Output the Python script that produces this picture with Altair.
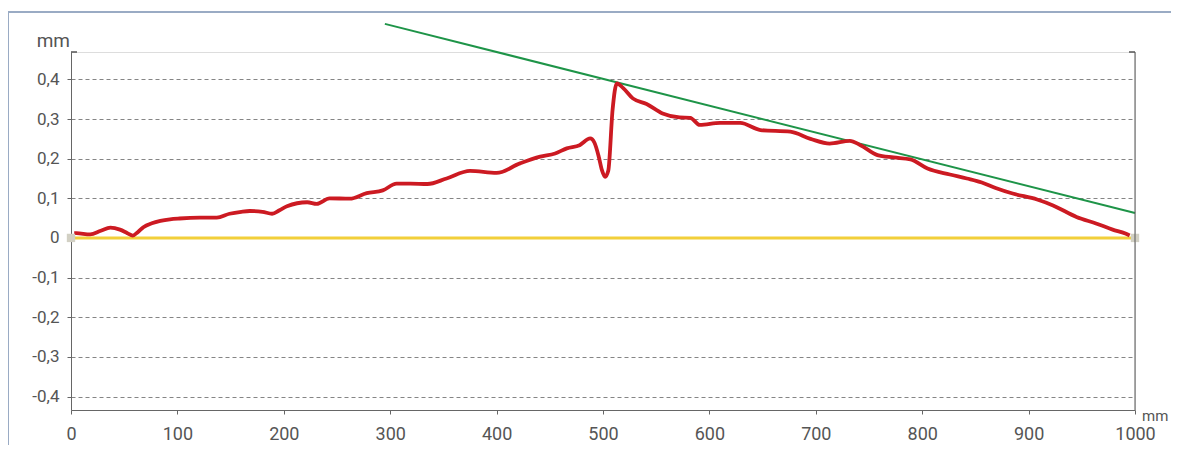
import altair as alt
import pandas as pd

# Red profile curve (mm, deviation in mm)
prof_x = [3, 5, 18, 28, 37, 46, 53, 58, 63, 68, 76, 84, 93, 102, 121, 137, 149, 160, 168, 180,
          189, 196, 203, 222, 231, 243, 262, 278, 293, 306, 319, 335, 353, 375, 400, 422, 441,
          455, 466, 478, 488, 492, 496, 499, 502, 505, 509, 513, 519, 528, 541, 556, 572, 582,
          591, 610, 629, 648, 676, 695, 713, 732, 742, 758, 773, 789, 805, 826, 842, 856, 869,
          885, 908, 923, 945, 964, 979, 991, 995]
prof_y = [0.012, 0.012, 0.009, 0.018, 0.026, 0.021, 0.012, 0.006, 0.015, 0.027, 0.037, 0.043,
          0.047, 0.049, 0.051, 0.051, 0.061, 0.066, 0.068, 0.066, 0.061, 0.070, 0.080, 0.090,
          0.086, 0.100, 0.099, 0.113, 0.120, 0.137, 0.137, 0.136, 0.150, 0.169, 0.164, 0.188,
          0.205, 0.213, 0.226, 0.234, 0.251, 0.240, 0.205, 0.171, 0.154, 0.170, 0.323, 0.390,
          0.378, 0.352, 0.338, 0.314, 0.304, 0.303, 0.285, 0.290, 0.290, 0.272, 0.268, 0.250,
          0.238, 0.245, 0.234, 0.209, 0.203, 0.198, 0.175, 0.160, 0.150, 0.140, 0.126, 0.112,
          0.097, 0.082, 0.053, 0.036, 0.021, 0.011, 0.006]

# Green tangent line
tan_x = [295, 1000]
tan_y = [0.540, 0.063]

# Yellow reference line and end markers
ref_x = [0, 1000]
ref_y = [0, 0]

x_ticks = [0, 100, 200, 300, 400, 500, 600, 700, 800, 900, 1000]
y_ticks = [-0.4, -0.3, -0.2, -0.1, 0, 0.1, 0.2, 0.3, 0.4]

W, H = 1064, 358
FONT = "Roboto"

prof = pd.DataFrame({"x": prof_x, "y": prof_y})
tan = pd.DataFrame({"x": tan_x, "y": tan_y})
ref = pd.DataFrame({"x": ref_x, "y": ref_y})

xs = alt.Scale(domain=[0, 1000], nice=False)
ys = alt.Scale(domain=[-0.434, 0.469], nice=False, zero=False)

ylab = ("datum.value == 0 ? '0' : replace(replace(format(datum.value, '.1f'), '.', ','), '\u2212', '-')")

xaxis = alt.Axis(values=x_ticks, title=None, grid=False, domainColor="#666", tickColor="#666",
                 tickSize=4, labelFontSize=18, labelColor="#555", labelFont=FONT, labelPadding=11,
                 labelFlush=False, format="d")
yaxis = alt.Axis(values=y_ticks, title=None, grid=True, gridDash=[4, 3], gridColor="#858585",
                 gridWidth=1, domainColor="#666", tickColor="#666", tickSize=4, labelFontSize=17,
                 labelColor="#555", labelFont=FONT, labelPadding=8, labelExpr=ylab)

base_ref = alt.Chart(ref).mark_line(color="#f2cf3a", strokeWidth=3).encode(
    x=alt.X("x:Q", scale=xs, axis=xaxis),
    y=alt.Y("y:Q", scale=ys, axis=yaxis),
)
green = alt.Chart(tan).mark_line(color="#1e9448", strokeWidth=2).encode(
    x=alt.X("x:Q", scale=xs), y=alt.Y("y:Q", scale=ys))
red = alt.Chart(prof).mark_line(color="#cc1a22", strokeWidth=3.8, interpolate="monotone").encode(
    x=alt.X("x:Q", scale=xs), y=alt.Y("y:Q", scale=ys))
ends = alt.Chart(ref).mark_square(color="#d2d0c4", size=70, opacity=1).encode(
    x=alt.X("x:Q", scale=xs), y=alt.Y("y:Q", scale=ys))

dummy = pd.DataFrame({"a": [0]})
right_axis = alt.Chart(dummy).mark_rule(color="#555", strokeWidth=1).encode(
    x=alt.value(W), y=alt.value(0), y2=alt.value(H))
right_tick = alt.Chart(dummy).mark_rule(color="#555", strokeWidth=1.5).encode(
    x=alt.value(W - 6), x2=alt.value(W), y=alt.value(0))
left_tick = alt.Chart(dummy).mark_rule(color="#555", strokeWidth=1.5).encode(
    x=alt.value(0), x2=alt.value(6), y=alt.value(0))
frame_top = alt.Chart(dummy).mark_rule(color="#9aabc4", strokeWidth=2).encode(
    x=alt.value(-63), x2=alt.value(W + 40), y=alt.value(-40))
frame_left = alt.Chart(dummy).mark_rule(color="#9aabc4", strokeWidth=2).encode(
    x=alt.value(-63), y=alt.value(-40), y2=alt.value(H + 40))

mm_top = alt.Chart(dummy).mark_text(text="mm", fontSize=19, font=FONT, color="#555",
                                    align="right", baseline="alphabetic").encode(
    x=alt.value(-1), y=alt.value(-5))
mm_right = alt.Chart(dummy).mark_text(text="mm", fontSize=15, font=FONT, color="#555",
                                      align="left", baseline="alphabetic").encode(
    x=alt.value(W + 7), y=alt.value(H + 11))

chart = alt.layer(
    base_ref, green, red, ends, right_axis, right_tick, left_tick,
    frame_top, frame_left, mm_top, mm_right
).properties(
    width=W, height=H,
    autosize=alt.AutoSizeParams(type="none"),
    padding={"left": 63, "top": 44, "right": 36, "bottom": 35},
).configure_view(stroke=None).configure(background="white")

chart.save("out.html", embed_options={"renderer": "svg", "actions": False})
